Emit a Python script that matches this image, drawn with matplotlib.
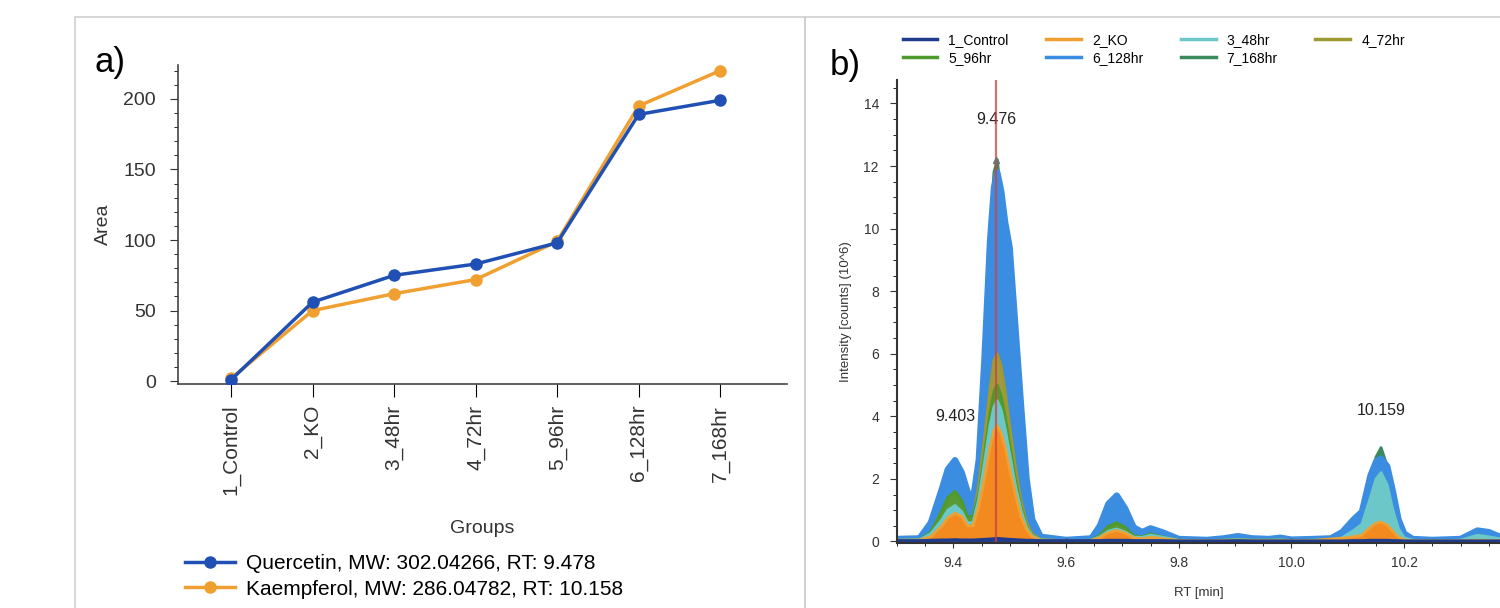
import matplotlib
matplotlib.use("Agg")
import matplotlib.pyplot as plt
from matplotlib.patches import Rectangle
from matplotlib.ticker import MultipleLocator

plt.rcParams['font.family'] = ['Liberation Sans', 'DejaVu Sans']

# ---- panel a data ----
groups = ["1_Control", "2_KO", "3_48hr", "4_72hr", "5_96hr", "6_128hr", "7_168hr"]
quercetin = [1, 56, 75, 83, 98, 189, 199]
kaempferol = [2, 50, 62, 72, 99, 195, 220]
label_q = "Quercetin, MW: 302.04266, RT: 9.478"
label_k = "Kaempferol, MW: 286.04782, RT: 10.158"

# ---- panel b data (chromatogram traces) ----
rt = [9.30, 9.34, 9.36, 9.38, 9.39, 9.403, 9.415, 9.425, 9.435, 9.445,
      9.455, 9.465, 9.472, 9.478, 9.485, 9.492, 9.50, 9.51, 9.52, 9.53,
      9.54, 9.555, 9.60, 9.645, 9.66, 9.675, 9.69, 9.705, 9.72, 9.735,
      9.75, 9.77, 9.80, 9.85, 9.88, 9.905, 9.93, 9.96, 9.98, 10.00,
      10.04, 10.07, 10.09, 10.11, 10.125, 10.14, 10.15, 10.159, 10.17, 10.18,
      10.19, 10.20, 10.215, 10.25, 10.30, 10.33, 10.35, 10.37]

int_control = [0.03, 0.03, 0.04, 0.05, 0.05, 0.06, 0.05, 0.05, 0.05, 0.06,
               0.07, 0.08, 0.09, 0.1, 0.09, 0.08, 0.07, 0.06, 0.05, 0.04,
               0.04, 0.03, 0.03, 0.03, 0.03, 0.04, 0.04, 0.04, 0.03, 0.03,
               0.03, 0.03, 0.02, 0.02, 0.02, 0.03, 0.02, 0.02, 0.02, 0.02,
               0.02, 0.02, 0.02, 0.03, 0.03, 0.04, 0.04, 0.04, 0.04, 0.03,
               0.03, 0.02, 0.02, 0.02, 0.02, 0.02, 0.02, 0.02]
int_ko = [0.03, 0.04, 0.15, 0.5, 0.75, 0.9, 0.8, 0.5, 0.5, 1.1,
          2.0, 3.0, 3.55, 3.7, 3.45, 3.0, 2.3, 1.5, 0.8, 0.37,
          0.15, 0.04, 0.02, 0.03, 0.12, 0.28, 0.35, 0.26, 0.11, 0.09,
          0.13, 0.09, 0.03, 0.02, 0.03, 0.04, 0.03, 0.03, 0.03, 0.02,
          0.03, 0.08, 0.1, 0.15, 0.2, 0.45, 0.58, 0.62, 0.52, 0.32,
          0.13, 0.05, 0.02, 0.02, 0.02, 0.04, 0.03, 0.03]
int_48 = [0.04, 0.05, 0.25, 0.7, 1.0, 1.15, 0.95, 0.6, 0.6, 1.35,
          2.5, 3.7, 4.3, 4.5, 4.2, 3.6, 2.8, 1.8, 1.0, 0.45,
          0.18, 0.05, 0.02, 0.04, 0.15, 0.33, 0.4, 0.3, 0.14, 0.13,
          0.2, 0.14, 0.04, 0.02, 0.04, 0.06, 0.04, 0.04, 0.05, 0.03,
          0.04, 0.05, 0.12, 0.35, 0.55, 1.4, 2.0, 2.2, 1.8, 1.0,
          0.4, 0.12, 0.04, 0.02, 0.04, 0.2, 0.15, 0.08]
int_72 = [0.04, 0.05, 0.25, 0.85, 1.2, 1.4, 1.15, 0.75, 0.75, 1.8,
          3.3, 4.9, 5.8, 6.0, 5.6, 4.8, 3.7, 2.4, 1.3, 0.6,
          0.25, 0.06, 0.02, 0.04, 0.15, 0.36, 0.45, 0.34, 0.14, 0.11,
          0.17, 0.12, 0.03, 0.02, 0.03, 0.05, 0.03, 0.03, 0.04, 0.02,
          0.03, 0.05, 0.1, 0.2, 0.3, 0.7, 0.92, 1.0, 0.85, 0.5,
          0.2, 0.07, 0.03, 0.02, 0.03, 0.06, 0.05, 0.03]
int_96 = [0.04, 0.05, 0.3, 1.0, 1.4, 1.6, 1.3, 0.8, 0.8, 1.5,
          2.75, 4.1, 4.8, 5.0, 4.65, 4.0, 3.1, 2.0, 1.1, 0.5,
          0.2, 0.05, 0.02, 0.04, 0.2, 0.48, 0.6, 0.45, 0.18, 0.15,
          0.24, 0.15, 0.04, 0.02, 0.04, 0.06, 0.04, 0.04, 0.05, 0.03,
          0.04, 0.05, 0.1, 0.25, 0.4, 0.9, 1.2, 1.3, 1.1, 0.65,
          0.25, 0.08, 0.03, 0.02, 0.03, 0.08, 0.06, 0.04]
int_128 = [0.08, 0.1, 0.6, 1.7, 2.3, 2.6, 2.2, 1.6, 1.35, 2.6,
           5.8, 9.6, 11.3, 11.8, 11.2, 10.2, 9.4, 6.9, 4.4, 2.0,
           0.7, 0.15, 0.05, 0.1, 0.5, 1.2, 1.47, 1.05, 0.45, 0.3,
           0.42, 0.3, 0.08, 0.05, 0.1, 0.17, 0.1, 0.08, 0.12, 0.06,
           0.08, 0.1, 0.3, 0.7, 0.95, 2.1, 2.55, 2.65, 2.4, 1.6,
           0.7, 0.25, 0.08, 0.05, 0.08, 0.35, 0.3, 0.15]
int_168 = [0.05, 0.06, 0.3, 0.9, 1.3, 1.5, 1.2, 0.8, 0.9, 2.8,
           6.2, 10.0, 11.8, 12.2, 11.0, 9.5, 7.8, 5.4, 3.2, 1.5,
           0.5, 0.1, 0.03, 0.05, 0.25, 0.5, 0.62, 0.45, 0.2, 0.18,
           0.28, 0.2, 0.05, 0.03, 0.05, 0.08, 0.05, 0.05, 0.07, 0.04,
           0.05, 0.05, 0.15, 0.45, 0.75, 1.9, 2.7, 3.0, 2.4, 1.4,
           0.55, 0.18, 0.05, 0.03, 0.05, 0.15, 0.12, 0.08]

trace_names = ["1_Control", "2_KO", "3_48hr", "4_72hr", "5_96hr", "6_128hr", "7_168hr"]
trace_data = [int_control, int_ko, int_48, int_72, int_96, int_128, int_168]
trace_colors = ["#1f3c8c", "#f0a030", "#6cc8c8", "#9c9a30", "#4f9a2c", "#3a8de0", "#3a8a5e"]
fill_colors = ["#1f3c8c", "#f28a20", "#6cc8c8", "#a09a40", "#5a9a35", "#3a8de0", "#3a8a5e"]

peak_labels = ["9.403", "9.476", "10.159"]
peak_rt = [9.403, 9.476, 10.159]
peak_text_y = [4.0, 13.5, 4.2]
marker_rt = 9.476

fig = plt.figure(figsize=(15, 6.08), dpi=100)

# panel borders
border = "#cfcfcf"
fig.add_artist(Rectangle((0.05, -0.01), 0.4867, 0.982, transform=fig.transFigure,
                         fill=False, edgecolor=border, lw=1.2))
fig.add_artist(Rectangle((0.5367, -0.01), 0.47, 0.982, transform=fig.transFigure,
                         fill=False, edgecolor=border, lw=1.2))

# ---------------- panel a ----------------
ax1 = fig.add_axes([0.1187, 0.3684, 0.406, 0.5247])
xs = list(range(len(groups)))
ax1.plot(xs, kaempferol, color="#f0a030", lw=2.5, marker="o", ms=8, label=label_k, zorder=2)
ax1.plot(xs, quercetin, color="#2050b4", lw=2.5, marker="o", ms=8, label=label_q, zorder=3)
ax1.set_xlim(-0.65, 6.82)
ax1.set_ylim(-2, 224)
ax1.set_xticks(xs)
ax1.set_xticklabels(groups, rotation=90, fontsize=15, color="#333333")
ax1.yaxis.set_major_locator(MultipleLocator(50))
ax1.yaxis.set_minor_locator(MultipleLocator(10))
ax1.tick_params(axis="y", labelsize=14, colors="#333333", length=6, pad=10)
ax1.tick_params(axis="y", which="minor", length=3)
ax1.tick_params(axis="x", length=9, pad=6)
for s in ["top", "right"]:
    ax1.spines[s].set_visible(False)
for s in ["left", "bottom"]:
    ax1.spines[s].set_color("#444444")
    ax1.spines[s].set_linewidth(1.2)
ax1.set_ylabel("Area", fontsize=14, color="#333333", labelpad=8)
ax1.set_xlabel("Groups", fontsize=14, color="#333333", labelpad=18)
h, l = ax1.get_legend_handles_labels()
fig.legend(h[::-1], l[::-1], loc="upper left", bbox_to_anchor=(0.118, 1 - 546 / 608),
           bbox_transform=fig.transFigure, frameon=False, fontsize=15,
           handlelength=2.4, handletextpad=0.5, labelspacing=0.3, borderaxespad=0)
fig.text(0.063, 0.897, "a)", fontsize=25, va="center")

# ---------------- panel b ----------------
ax2 = fig.add_axes([0.598, 0.1069, 0.402, 0.7615])
order = [6, 5, 3, 4, 2, 1, 0]
z = 1.0
for i in order:
    lw = 4.5 if i == 5 else 2.0
    ax2.fill_between(rt, 0, trace_data[i], color=fill_colors[i], lw=0, zorder=z)
    ax2.plot(rt, trace_data[i], color=trace_colors[i], lw=lw, zorder=z + 0.1)
    z += 0.2
ax2.axvline(marker_rt, color="#d04040", lw=1.6, alpha=0.75, zorder=5)
ax2.plot([marker_rt], [max(int_168)], marker="^", color="#707070", ms=4, zorder=6)
for lab, x, y in zip(peak_labels, peak_rt, peak_text_y):
    ax2.text(x, y, lab, fontsize=11.5, ha="center", va="center", color="#222222")
ax2.set_xlim(9.30, 10.37)
ax2.set_ylim(-0.05, 14.75)
ax2.xaxis.set_major_locator(MultipleLocator(0.2))
ax2.xaxis.set_minor_locator(MultipleLocator(0.05))
ax2.yaxis.set_major_locator(MultipleLocator(2))
ax2.yaxis.set_minor_locator(MultipleLocator(0.5))
ax2.tick_params(axis="both", labelsize=10, colors="#333333")
ax2.tick_params(axis="y", length=5, pad=8)
ax2.tick_params(axis="y", which="minor", length=3)
ax2.tick_params(axis="x", direction="inout", length=7, pad=6)
ax2.tick_params(axis="x", which="minor", direction="inout", length=4)
for s in ["top", "right"]:
    ax2.spines[s].set_visible(False)
for s in ["left", "bottom"]:
    ax2.spines[s].set_color("#333333")
    ax2.spines[s].set_linewidth(1.5)
    ax2.spines[s].set_zorder(7)
ax2.set_ylabel("Intensity [counts] (10^6)", fontsize=9.5, color="#333333", labelpad=8)
ax2.set_xlabel("RT [min]", fontsize=9.5, color="#333333", labelpad=12)

handles = [plt.Line2D([], [], color=c, lw=2.5) for c in trace_colors]
legend_order = [0, 4, 1, 5, 2, 6, 3]
fig.legend([handles[i] for i in legend_order], [trace_names[i] for i in legend_order],
           ncol=4, loc="upper left", bbox_to_anchor=(0.598, 1 - 27 / 608),
           bbox_transform=fig.transFigure, frameon=False, fontsize=10,
           handlelength=2.5, labelspacing=0.34, columnspacing=2.7, borderaxespad=0,
           handletextpad=0.8)
fig.text(0.553, 0.892, "b)", fontsize=25, va="center")

fig.savefig("out.png", dpi=100)
